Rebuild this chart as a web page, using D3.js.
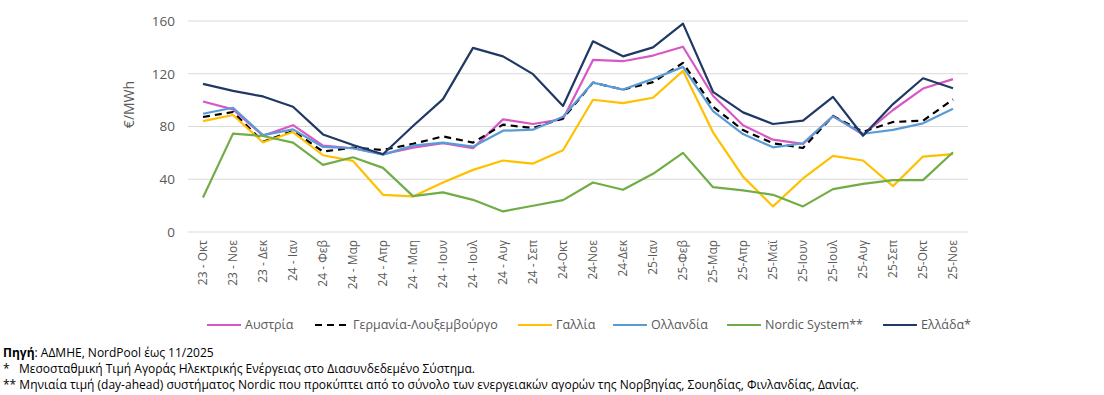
<!DOCTYPE html>
<html>
<head>
<meta charset="utf-8">
<script src="https://cdn.jsdelivr.net/npm/d3@7"></script>
<style>
  body { margin: 0; background: #fff; }
  svg { display: block; font-family: "Open Sans", sans-serif; }
</style>
</head>
<body>
<div class="chart"></div>
<script>
const months = [
  '23 - Οκτ', '23 - Νοε', '23 - Δεκ', '24 - Ιαν', '24 - Φεβ', '24 - Μαρ', '24 - Απρ',
  '24 - Μαη', '24 - Ιουν', '24 - Ιουλ', '24 - Αυγ', '24 - Σεπ', '24-Οκτ', '24-Νοε',
  '24-Δεκ', '25-Ιαν', '25-Φεβ', '25-Μαρ', '25-Απρ', '25-Μαϊ', '25-Ιουν', '25-Ιουλ',
  '25-Αυγ', '25-Σεπ', '25-Οκτ', '25-Νοε'
];

const austria = [99, 93, 73, 81, 65.5, 63.5, 59, 64, 67.3, 63.5, 85.4, 81.9, 85.6, 130.5,
  129.5, 133.8, 140.5, 103.3, 80.9, 70, 66.8, 88, 73.8, 92.5, 108.8, 115.9];
const germany = [87.2, 91, 68.5, 76.6, 61, 64, 62.2, 66.8, 72.5, 67.8, 81.4, 78.8, 86.1, 113.3,
  108, 113.6, 128.2, 95, 77.3, 67.3, 63.7, 88, 76, 83.4, 84.4, 100.5];
const france = [84.1, 88.7, 68, 75.8, 58.2, 53.9, 28.2, 27, 37.5, 47.1, 54.2, 51.9, 62, 100.3,
  97.7, 101.8, 122.2, 75.6, 42, 19.4, 40.6, 57.7, 54.2, 34.8, 57.2, 59];
const netherlands = [89.7, 94.2, 73.5, 77.8, 64.5, 63.5, 58.7, 65.5, 67.8, 64.7, 76.8, 77.6, 87.4, 113.3,
  108, 116.1, 125.2, 91.7, 74.3, 64.2, 67.3, 87.7, 74.5, 77.4, 82.4, 93.4];
const nordic = [26.2, 74.6, 72.8, 67.8, 50.9, 56.7, 48.6, 27.2, 30, 24.4, 15.6, 19.9, 24.2, 37.5,
  32, 44.1, 60, 34, 31.5, 28.2, 19.4, 32.5, 36.5, 39.3, 39.3, 60.5];
const greece = [112.3, 107, 102.8, 95, 74, 66, 59, 80.4, 100.8, 139.6, 133.2, 119.7, 95.5, 144.6,
  133.2, 140, 158, 106.3, 90.7, 81.9, 84.4, 102.5, 73, 97, 116.6, 109];

const yTicks = [0, 40, 80, 120, 160];

const series = [
  { name: 'Αυστρία', values: austria, color: '#d957c5', dash: null },
  { name: 'Γερμανία-Λουξεμβούργο', values: germany, color: '#000000', dash: '7,5' },
  { name: 'Γαλλία', values: france, color: '#ffc000', dash: null },
  { name: 'Ολλανδία', values: netherlands, color: '#5b9bd5', dash: null },
  { name: 'Nordic System**', values: nordic, color: '#70ad47', dash: null },
  { name: 'Ελλάδα*', values: greece, color: '#203864', dash: null }
];

const legendX = [207, 315, 518, 613, 727, 883];

const chartWidth = 1104;
const chartHeight = 395;

const margin = { left: 188, right: 136, top: 21, bottom: 163 };
const width = chartWidth - margin.left - margin.right;
const height = chartHeight - margin.top - margin.bottom;

const root = d3.select('.chart')
  .append('svg')
  .attr('width', chartWidth)
  .attr('height', chartHeight);

const svg = root.append('g')
  .attr('transform', `translate(${margin.left}, ${margin.top})`);

const xScale = d3.scaleBand()
  .domain(months)
  .range([0, width]);

const yScale = d3.scaleLinear()
  .domain([0, 160])
  .range([height, 0]);

// gridlines
svg.append('g')
  .selectAll('line')
  .data(yTicks)
  .enter()
  .append('line')
  .attr('x1', 0)
  .attr('x2', width)
  .attr('y1', d => yScale(d))
  .attr('y2', d => yScale(d))
  .attr('stroke', '#d9d9d9')
  .attr('stroke-width', 1);

const yAxis = d3.axisLeft(yScale).tickValues(yTicks).tickSize(0).tickPadding(13);
svg.append('g')
  .call(yAxis)
  .call(g => g.select('.domain').remove())
  .selectAll('text')
  .attr('font-family', '"Open Sans", sans-serif')
  .attr('font-size', '13.5px')
  .attr('fill', '#595959');

const xAxis = d3.axisBottom(xScale).tickSize(0).tickPadding(0);
svg.append('g')
  .attr('transform', `translate(0, ${height})`)
  .call(xAxis)
  .call(g => g.select('.domain').remove())
  .selectAll('text')
  .attr('font-family', '"Open Sans", sans-serif')
  .attr('font-size', '12px')
  .attr('fill', '#595959')
  .attr('transform', 'rotate(-90)')
  .attr('text-anchor', 'end')
  .attr('dy', '0.35em')
  .attr('x', -8)
  .attr('y', 0);

root.append('text')
  .attr('transform', `translate(134, ${margin.top + height / 2 - 22}) rotate(-90)`)
  .attr('text-anchor', 'middle')
  .attr('font-size', '14px')
  .attr('fill', '#595959')
  .text('€/MWh');

const line = d3.line()
  .x((d, i) => xScale(months[i]) + xScale.bandwidth() / 2)
  .y(d => yScale(d));

svg.append('g')
  .selectAll('path')
  .data(series)
  .enter()
  .append('path')
  .attr('d', d => line(d.values))
  .attr('fill', 'none')
  .attr('stroke', d => d.color)
  .attr('stroke-width', 2.2)
  .attr('stroke-dasharray', d => d.dash)
  .attr('stroke-linejoin', 'round');

// legend
const legend = root.append('g')
  .selectAll('g')
  .data(series)
  .enter()
  .append('g')
  .attr('transform', (d, i) => `translate(${legendX[i]}, 325)`);
legend.append('line')
  .attr('x1', 0)
  .attr('x2', 34)
  .attr('stroke', d => d.color)
  .attr('stroke-width', 2.2)
  .attr('stroke-dasharray', d => d.dash);
legend.append('text')
  .attr('x', 38)
  .attr('dy', '0.35em')
  .attr('font-size', '12.5px')
  .attr('fill', '#595959')
  .text(d => d.name);

// footnotes
const notes = root.append('g')
  .attr('font-size', '12px')
  .attr('fill', '#000');
const src = notes.append('text').attr('x', 3).attr('y', 357);
src.append('tspan').attr('font-weight', 'bold').text('Πηγή');
src.append('tspan').text(': ΑΔΜΗΕ, NordPool έως 11/2025');
notes.append('text').attr('x', 3).attr('y', 373)
  .attr('xml:space', 'preserve')
  .text('*   Μεσοσταθμική Τιμή Αγοράς Ηλεκτρικής Ενέργειας στο Διασυνδεδεμένο Σύστημα.');
notes.append('text').attr('x', 3).attr('y', 389)
  .text('** Μηνιαία τιμή (day-ahead) συστήματος Nordic που προκύπτει από το σύνολο των ενεργειακών αγορών της Νορβηγίας, Σουηδίας, Φινλανδίας, Δανίας.');
</script>
</body>
</html>
